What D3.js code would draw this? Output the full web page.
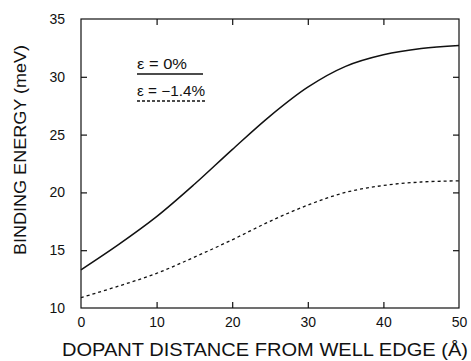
<!DOCTYPE html>
<html>
<head>
<meta charset="utf-8">
<script src="https://cdn.jsdelivr.net/npm/d3@7/dist/d3.min.js"></script>
<style>
  html, body { margin: 0; padding: 0; background: #fff; }
  svg { display: block; }
  text { font-family: "Liberation Sans", "DejaVu Sans", sans-serif; fill: #111; }
</style>
</head>
<body>
<svg id="chart" width="471" height="361"></svg>
<script>
// Data
const distance = [0, 5, 10, 15, 20, 25, 30, 35, 40, 45, 50];
const strain0 = [13.3, 15.5, 17.9, 20.7, 23.7, 26.6, 29.1, 30.9, 31.9, 32.45, 32.7];
const strainNeg14 = [10.9, 11.9, 13.0, 14.4, 15.9, 17.5, 18.9, 20.0, 20.6, 20.9, 21.0];
const xTicks = [0, 10, 20, 30, 40, 50];
const yTicks = [10, 15, 20, 25, 30, 35];
const legendLabels = ["\u03B5 = 0%", "\u03B5 = \u22121.4%"];
const xTitle = "DOPANT DISTANCE FROM WELL EDGE (\u00C5)";
const yTitle = "BINDING ENERGY (meV)";

const svg = d3.select("#chart");
const m = { left: 81, right: 459, top: 19, bottom: 308 };

const x = d3.scaleLinear().domain([0, 50]).range([m.left, m.right]);
const y = d3.scaleLinear().domain([10, 35]).range([m.bottom, m.top]);

// Frame
svg.append("rect")
  .attr("x", m.left).attr("y", m.top)
  .attr("width", m.right - m.left).attr("height", m.bottom - m.top)
  .attr("fill", "none").attr("stroke", "#111").attr("stroke-width", 1.2);

const innerTicks = (sel) => {
  sel.select(".domain").remove();
  sel.selectAll(".tick line").attr("stroke", "#111").attr("stroke-width", 1.2);
};

// Bottom axis with labels
svg.append("g").attr("transform", `translate(0,${m.bottom})`)
  .call(d3.axisBottom(x).tickValues(xTicks).tickSize(-6).tickPadding(9))
  .call(innerTicks)
  .call(g => g.selectAll(".tick text").attr("font-size", 14).attr("font-family", "Liberation Sans, sans-serif").attr("fill", "#111"))
  .call(g => g.selectAll(".tick").filter(d => d === 0 || d === 50).select("line").remove());

// Left axis with labels
svg.append("g").attr("transform", `translate(${m.left},0)`)
  .call(d3.axisLeft(y).tickValues(yTicks).tickSize(-6).tickPadding(16))
  .call(innerTicks)
  .call(g => g.selectAll(".tick text").attr("font-size", 14).attr("font-family", "Liberation Sans, sans-serif").attr("fill", "#111"))
  .call(g => g.selectAll(".tick").filter(d => d === 10 || d === 35).select("line").remove());

// Top axis (ticks only)
svg.append("g").attr("transform", `translate(0,${m.top})`)
  .call(d3.axisTop(x).tickValues(xTicks.slice(1, -1)).tickSize(-6).tickFormat(""))
  .call(innerTicks);

// Right axis (ticks only)
svg.append("g").attr("transform", `translate(${m.right},0)`)
  .call(d3.axisRight(y).tickValues(yTicks.slice(1, -1)).tickSize(-6).tickFormat(""))
  .call(innerTicks);

// Curves
const line = d3.line().x(d => x(d[0])).y(d => y(d[1])).curve(d3.curveCatmullRom.alpha(0.5));
svg.append("path")
  .datum(distance.map((d, i) => [d, strain0[i]]))
  .attr("d", line).attr("fill", "none").attr("stroke", "#111").attr("stroke-width", 1.5);
svg.append("path")
  .datum(distance.map((d, i) => [d, strainNeg14[i]]))
  .attr("d", line).attr("fill", "none").attr("stroke", "#111").attr("stroke-width", 1.3)
  .attr("stroke-dasharray", "3,3");

// Legend
const lg = svg.append("g");
const lx = 137;
lg.append("text").attr("x", lx).attr("y", 69).attr("font-size", 14).text(legendLabels[0])
  .attr("textLength", 50).attr("lengthAdjust", "spacingAndGlyphs");
lg.append("line").attr("x1", lx).attr("x2", 203).attr("y1", 74).attr("y2", 74)
  .attr("stroke", "#111").attr("stroke-width", 1.3);
lg.append("text").attr("x", lx).attr("y", 96).attr("font-size", 14).text(legendLabels[1])
  .attr("textLength", 68).attr("lengthAdjust", "spacingAndGlyphs");
lg.append("line").attr("x1", lx).attr("x2", 205).attr("y1", 101).attr("y2", 101)
  .attr("stroke", "#111").attr("stroke-width", 1.3).attr("stroke-dasharray", "3,2");

// Axis titles
svg.append("text")
  .attr("x", 62).attr("y", 356)
  .attr("font-size", 19)
  .attr("textLength", 406).attr("lengthAdjust", "spacingAndGlyphs")
  .text(xTitle);

svg.append("text")
  .attr("transform", "translate(26,150) rotate(-90)")
  .attr("text-anchor", "middle")
  .attr("font-size", 17)
  .attr("textLength", 210).attr("lengthAdjust", "spacingAndGlyphs")
  .attr("x", 0).attr("y", 0)
  .text(yTitle);
</script>
</body>
</html>
